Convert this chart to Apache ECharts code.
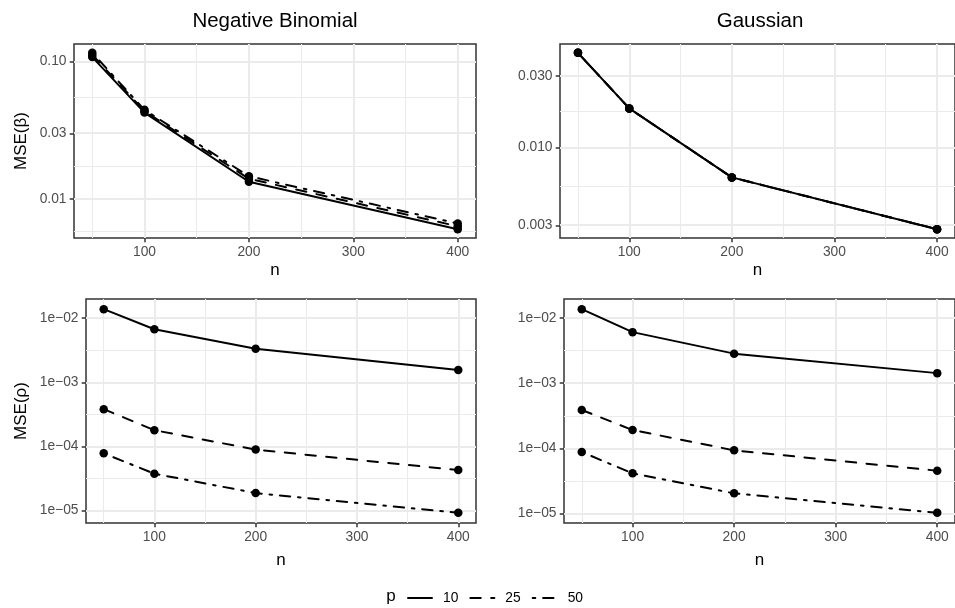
<!DOCTYPE html>
<html><head><meta charset="utf-8">
<script src="https://cdn.jsdelivr.net/npm/echarts@6/dist/echarts.min.js"></script>
<style>html,body{margin:0;padding:0;background:#fff}#c{width:955px;height:608px}</style>
</head><body><div id="c"></div>
<script>
// ---------- data ----------
const nValues = [50, 100, 200, 400];
const pLevels = ['10', '25', '50'];

// Negative Binomial, MSE(beta)
const nbBeta10 = [0.108, 0.0425, 0.0133, 0.0060];
const nbBeta25 = [0.112, 0.0435, 0.0140, 0.0063];
const nbBeta50 = [0.116, 0.0445, 0.0146, 0.0066];
// Gaussian, MSE(beta)
const gaBeta10 = [0.0428, 0.0182, 0.0063, 0.00284];
const gaBeta25 = [0.0428, 0.0182, 0.0063, 0.00284];
const gaBeta50 = [0.0428, 0.0182, 0.0063, 0.00284];
// Negative Binomial, MSE(rho)
const nbRho10 = [0.01384, 0.00673, 0.00334, 0.00155];
const nbRho25 = [0.000381, 0.000179, 0.0000891, 0.0000428];
const nbRho50 = [0.0000780, 0.0000375, 0.0000187, 0.0000092];
// Gaussian, MSE(rho)
const gaRho10 = [0.01374, 0.0061, 0.00285, 0.00143];
const gaRho25 = [0.000388, 0.000191, 0.0000931, 0.0000452];
const gaRho50 = [0.0000877, 0.0000412, 0.0000203, 0.0000102];

// tick values and labels
const xTicks = [100, 200, 300, 400];
const xTickLabels = ['100', '200', '300', '400'];
const nbBetaTicks = [0.01, 0.03, 0.10];
const nbBetaLabels = ['0.01', '0.03', '0.10'];
const gaBetaTicks = [0.003, 0.010, 0.030];
const gaBetaLabels = ['0.003', '0.010', '0.030'];
const rhoTicks = [1e-5, 1e-4, 1e-3, 1e-2];
const rhoLabels = ['1e\u221205', '1e\u221204', '1e\u221203', '1e\u221202'];

// ---------- styling / layout ----------
const FONT = "'Liberation Sans', Arial, Helvetica, sans-serif";
const U = 2.6;
const lineTypes = ['solid', [4 * U, 4 * U], [U, 3 * U, 4 * U, 3 * U]];
const GRID_COLOR = '#EBEBEB';

const panels = [
  { title: 'Negative Binomial', rect: { left: 74, top: 44, width: 402, height: 194 },
    series: [nbBeta10, nbBeta25, nbBeta50], ticks: nbBetaTicks, labels: nbBetaLabels, yName: 'MSE(\u03b2)', yGap: 44, xGap: 24 },
  { title: 'Gaussian', rect: { left: 560, top: 44, width: 400, height: 194 },
    series: [gaBeta10, gaBeta25, gaBeta50], ticks: gaBetaTicks, labels: gaBetaLabels, yName: '', yGap: 0, xGap: 24 },
  { title: null, rect: { left: 86, top: 299, width: 390, height: 224 },
    series: [nbRho10, nbRho25, nbRho50], ticks: rhoTicks, labels: rhoLabels, yName: 'MSE(\u03c1)', yGap: 56, xGap: 29 },
  { title: null, rect: { left: 564, top: 299, width: 396, height: 224 },
    series: [gaRho10, gaRho25, gaRho50], ticks: rhoTicks, labels: rhoLabels, yName: '', yGap: 0, xGap: 29 }
];

function expand(lo, hi) { const p = 0.05 * (hi - lo); return [lo - p, hi + p]; }
function minorBreaks(majors, lo, hi) {
  const b = majors.slice();
  const bd = b[1] - b[0];
  if (lo < b[0]) b.unshift(b[0] - bd);
  if (hi > b[b.length - 1]) b.push(b[b.length - 1] + bd);
  const m = [];
  for (let i = 0; i < b.length - 1; i++) {
    const v = (b[i] + b[i + 1]) / 2;
    if (v >= lo && v <= hi) m.push(v);
  }
  return m;
}

const [xMin, xMax] = expand(Math.min(...nValues), Math.max(...nValues));
const xMinor = minorBreaks(xTicks, xMin, xMax);

const grids = [], xAxes = [], yAxes = [], series = [], titles = [];

panels.forEach((pn, i) => {
  const logs = [].concat(...pn.series.map(s => s.map(v => Math.log10(v))));
  const [yMin, yMax] = expand(Math.min(...logs), Math.max(...logs));
  const tickLogs = pn.ticks.map(v => Math.log10(v));
  const yMinor = minorBreaks(tickLogs, yMin, yMax);

  grids.push(Object.assign({ show: true, borderColor: '#333333', borderWidth: 1.5, backgroundColor: '#fff', containLabel: false }, pn.rect));

  xAxes.push({
    gridIndex: i, type: 'value', min: xMin, max: xMax,
    name: 'n', nameLocation: 'middle', nameGap: pn.xGap,
    nameTextStyle: { fontSize: 17, color: '#000', fontFamily: FONT },
    axisLine: { show: false, onZero: false },
    axisTick: { show: true, customValues: xTicks, length: 4.3, lineStyle: { color: '#333333', width: 1.5 } },
    axisLabel: { customValues: xTicks, margin: 7.5, fontSize: 13.8, color: '#4D4D4D', fontFamily: FONT,
      formatter: v => { const k = xTicks.indexOf(v); return k >= 0 ? xTickLabels[k] : ''; } },
    splitLine: { show: false }
  });

  yAxes.push({
    gridIndex: i, type: 'value', min: yMin, max: yMax,
    name: pn.yName, nameLocation: 'middle', nameGap: pn.yGap,
    nameTextStyle: { fontSize: 17, color: '#000', fontFamily: FONT },
    axisLine: { show: false, onZero: false },
    axisTick: { show: true, customValues: tickLogs, length: 4.3, lineStyle: { color: '#333333', width: 1.5 } },
    axisLabel: { customValues: tickLogs, margin: 7.5, fontSize: 13.8, color: '#4D4D4D', fontFamily: FONT,
      formatter: v => { const k = tickLogs.findIndex(t => Math.abs(t - v) < 1e-9); return k >= 0 ? pn.labels[k] : ''; } },
    splitLine: { show: false }
  });

  const gridLines = [];
  xMinor.forEach(v => gridLines.push({ xAxis: v, lineStyle: { width: 1.1 } }));
  yMinor.forEach(v => gridLines.push({ yAxis: v, lineStyle: { width: 1.1 } }));
  xTicks.forEach(v => gridLines.push({ xAxis: v, lineStyle: { width: 2.1 } }));
  tickLogs.forEach(v => gridLines.push({ yAxis: v, lineStyle: { width: 2.1 } }));

  pn.series.forEach((vals, k) => {
    const s = {
      name: pLevels[k], type: 'line', xAxisIndex: i, yAxisIndex: i,
      data: nValues.map((n, j) => [n, Math.log10(vals[j])]),
      symbol: 'circle', symbolSize: 8.5, showSymbol: true,
      itemStyle: { color: '#000' },
      lineStyle: { color: '#000', width: 2, type: lineTypes[k], cap: 'round', join: 'round' },
      z: 3, animation: false, silent: true
    };
    if (k === 0) {
      s.markLine = {
        silent: true, animation: false, z: 1, symbol: ['none', 'none'],
        label: { show: false },
        lineStyle: { color: GRID_COLOR, type: 'solid' },
        emphasis: { disabled: true },
        data: gridLines
      };
    }
    series.push(s);
  });

  if (pn.title) {
    titles.push({
      text: pn.title, left: pn.rect.left + pn.rect.width / 2, top: 11, textAlign: 'center', padding: 0,
      textStyle: { fontSize: 20.5, fontWeight: 'normal', color: '#000', fontFamily: FONT }
    });
  }
});

titles.push({ text: 'p', left: 391, top: 588, textAlign: 'center', padding: 0,
  textStyle: { fontSize: 17, fontWeight: 'normal', color: '#000', fontFamily: FONT } });

const chart = echarts.init(document.getElementById('c'), null, { renderer: 'canvas' });
chart.setOption({
  animation: false,
  backgroundColor: '#fff',
  textStyle: { fontFamily: FONT },
  title: titles,
  legend: {
    data: pLevels, left: 407, top: 591, padding: 0,
    itemWidth: 24, itemHeight: 14, itemGap: 11, selectedMode: false,
    itemStyle: { opacity: 0 },
    textStyle: { fontSize: 13.8, color: '#000', fontFamily: FONT, padding: [0, 0, 0, 6] }
  },
  grid: grids, xAxis: xAxes, yAxis: yAxes, series: series
});
</script></body></html>
